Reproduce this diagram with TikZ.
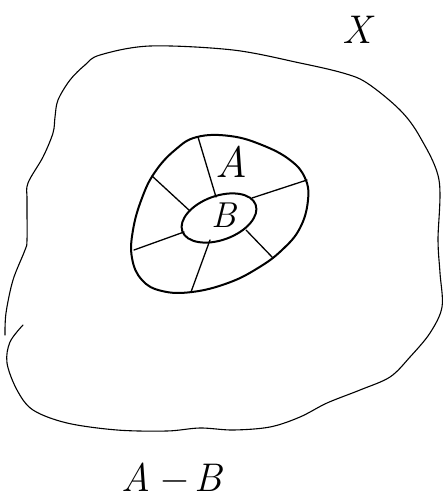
\documentclass[tikz,border=0pt]{standalone}
\usepackage{fontspec}
\begin{document}
\begin{tikzpicture}[x=1pt,y=-1pt,
  blob/.style={line width=1.1pt,line join=round,line cap=round},
  region/.style={line width=2pt,line join=round},
  spoke/.style={line width=1.3pt,line cap=round},
  hand/.style={font=\fontsize{40}{40}\selectfont\itshape, inner sep=0pt}]
\useasboundingbox (0,0) rectangle (445,500);
% outer space X
\draw[blob] plot[smooth, tension=0.55] coordinates {
 (23,325) (10,342) (7,363) (17,390) (33,410) (67,423) (117,430) (167,431)
 (200,428) (233,430) (270,427) (300,417) (327,403) (360,390) (390,377)
 (410,357) (430,333) (442,307) (440,273) (438,240) (439,180)
 (420,137) (400,110) (367,83) (343,73) (300,63) (233,50) (150,46) (100,55)
 (85,65) (70,80) (58,100) (55,117) (53,133) (43,157) (28,183) (27,200)
 (27,240) (25,250) (13,280) (6,313) (5,335)};
% region A
\draw[region] plot[smooth cycle, tension=0.7] coordinates {
 (197,137) (230,136) (262,145) (290,160) (305,178) (308,200) (300,228)
 (282,250) (258,268) (228,283) (192,292) (162,291) (142,280) (132,258)
 (133,230) (142,198) (155,172) (175,150)};
% region B
\draw[region] (219,218) ellipse[x radius=39, y radius=22, rotate=20];
% spokes
\draw[spoke] (216,197) -- (198,137);
\draw[spoke] (190,211) -- (152,176);
\draw[spoke] (252,198) -- (307,180);
\draw[spoke] (246,230) -- (273,258);
\draw[spoke] (210,240) -- (191,292);
\draw[spoke] (184,232) -- (134,250);
% labels
\node[hand, font=\fontsize{44}{44}\selectfont\itshape] (la) at (231,162) {A};
\node[hand, font=\fontsize{36}{36}\selectfont\itshape] (lb) at (224,215) {B};
\node[hand] (lx) at (357,30) {X};
\node[hand] (lab) at (172,477) {A\kern7pt−\kern7pt B};
\end{tikzpicture}
\end{document}
